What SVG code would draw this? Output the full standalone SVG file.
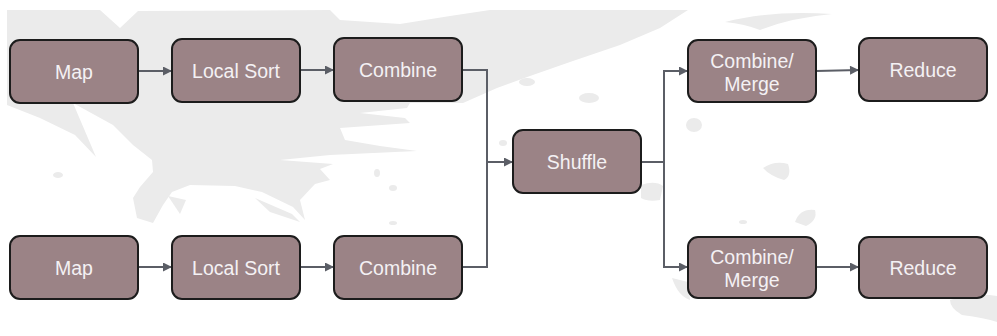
<svg xmlns="http://www.w3.org/2000/svg" width="997" height="336" viewBox="0 0 997 336">
  <defs>
    <marker id="arrow" viewBox="0 0 10 10" refX="10" refY="5" markerWidth="10" markerHeight="9" markerUnits="userSpaceOnUse" orient="auto">
      <path d="M0,0 L10,5 L0,10 z" fill="#5b5e66"/>
    </marker>
    <style>
      .splash { fill: #ebebeb; }
      .box { fill: #9b8386; stroke: #1c1c1c; stroke-width: 2; }
      .label { font-family: "Liberation Sans", Arial, sans-serif; font-size: 19.5px; fill: #f4f1f4; text-anchor: middle; }
      .wire { fill: none; stroke: #5b5e66; stroke-width: 2; }
    </style>
  </defs>

  <rect width="997" height="336" fill="#ffffff"/>

  <!-- background brush splash -->
  <g id="backdrop">
    <path class="splash" d="M7,10 L100,10 L120,28 L138,11 L330,10 L340,20 L400,24 L450,16 L490,10 L688,10 L660,28 L620,45 L570,62 L530,76 L497,88 L463,103 L410,103 L407,108 L360,113 L405,118 L410,123 L340,128 L345,140 L380,146 L417,151 L330,155 L280,160 L333,164 L320,169 L330,180 L315,184 L300,200 L305,220 L293,207 L262,192 L235,186 L190,185 L172,192 L163,205 L153,223 L137,218 L133,198 L140,187 L153,172 L152,160 L133,145 L113,125 L73,103 L96,157 L75,135 L40,118 L7,105 Z"/>
    <path class="splash" d="M168,196 L180,214 L186,200 Z"/>
    <path class="splash" d="M255,198 L292,214 L300,222 L270,212 Z"/>
    <path class="splash" d="M725,22 Q770,10 832,14 Q790,18 760,30 Q745,24 725,22 Z"/>
    <ellipse class="splash" cx="58" cy="175" rx="5" ry="3"/>
    <ellipse class="splash" cx="377" cy="173" rx="3" ry="4"/>
    <ellipse class="splash" cx="393" cy="188" rx="4" ry="3"/>
    <ellipse class="splash" cx="393" cy="223" rx="4" ry="2"/>
    <ellipse class="splash" cx="527" cy="82" rx="8" ry="4"/>
    <ellipse class="splash" cx="589" cy="98" rx="10" ry="5"/>
    <ellipse class="splash" cx="503" cy="143" rx="4" ry="3"/>
    <ellipse class="splash" cx="694" cy="125" rx="8" ry="7"/>
    <path class="splash" d="M763,168 Q775,160 788,164 Q792,176 784,180 Q770,176 763,168 Z"/>
    <path class="splash" d="M795,222 Q800,208 815,210 Q818,220 806,226 Z"/>
    <ellipse class="splash" cx="743" cy="222" rx="4" ry="2"/>
    <path class="splash" d="M641,185 Q655,180 663,186 L660,200 Q648,202 641,198 Z"/>
    <path class="splash" d="M672,278 L688,282 L690,300 Q678,296 672,278 Z"/>
    <path class="splash" d="M950,300 Q975,292 997,296 L997,322 Q985,318 962,315 Q950,308 950,300 Z"/>
  </g>

  <!-- connectors -->
  <g id="connectors">
    <path class="wire" marker-end="url(#arrow)" d="M138,71 H172"/>
    <path class="wire" marker-end="url(#arrow)" d="M300,70 H334"/>
    <path class="wire" marker-end="url(#arrow)" d="M138,267 H172"/>
    <path class="wire" marker-end="url(#arrow)" d="M300,267 H334"/>
    <path class="wire" marker-end="url(#arrow)" d="M462,70 H487 V162 H513"/>
    <path class="wire" d="M462,267 H487 V162"/>
    <path class="wire" marker-end="url(#arrow)" d="M641,162 H664 V71 H688"/>
    <path class="wire" marker-end="url(#arrow)" d="M664,162 V267 H688"/>
    <path class="wire" marker-end="url(#arrow)" d="M816,71 L859,70"/>
    <path class="wire" marker-end="url(#arrow)" d="M816,267 H859"/>
  </g>

  <g id="map-1">
    <rect class="box" x="10" y="40" width="128" height="63" rx="10"/>
    <text class="label" x="74" y="79">Map</text>
  </g>
  <g id="local-sort-1">
    <rect class="box" x="172" y="39" width="128" height="63" rx="10"/>
    <text class="label" x="236" y="78">Local Sort</text>
  </g>
  <g id="combine-1">
    <rect class="box" x="334" y="38" width="128" height="63" rx="10"/>
    <text class="label" x="398" y="77">Combine</text>
  </g>
  <g id="map-2">
    <rect class="box" x="10" y="236" width="128" height="63" rx="10"/>
    <text class="label" x="74" y="275">Map</text>
  </g>
  <g id="local-sort-2">
    <rect class="box" x="172" y="236" width="128" height="63" rx="10"/>
    <text class="label" x="236" y="275">Local Sort</text>
  </g>
  <g id="combine-2">
    <rect class="box" x="334" y="236" width="128" height="63" rx="10"/>
    <text class="label" x="398" y="275">Combine</text>
  </g>
  <g id="shuffle">
    <rect class="box" x="513" y="130" width="128" height="63" rx="10"/>
    <text class="label" x="577" y="169">Shuffle</text>
  </g>
  <g id="combine-merge-1">
    <rect class="box" x="688" y="40" width="128" height="62" rx="10"/>
    <text class="label" x="752" y="68">Combine/</text>
    <text class="label" x="752" y="91">Merge</text>
  </g>
  <g id="reduce-1">
    <rect class="box" x="859" y="38" width="128" height="63" rx="10"/>
    <text class="label" x="923" y="77">Reduce</text>
  </g>
  <g id="combine-merge-2">
    <rect class="box" x="688" y="237" width="128" height="61" rx="10"/>
    <text class="label" x="752" y="264">Combine/</text>
    <text class="label" x="752" y="287">Merge</text>
  </g>
  <g id="reduce-2">
    <rect class="box" x="859" y="237" width="128" height="61" rx="10"/>
    <text class="label" x="923" y="275">Reduce</text>
  </g>
</svg>
